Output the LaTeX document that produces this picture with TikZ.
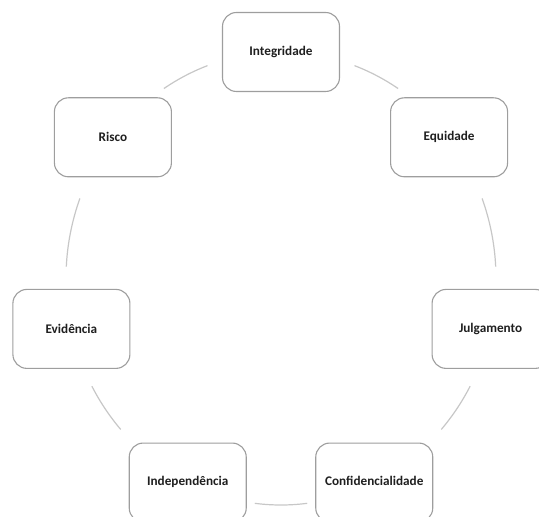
\documentclass[tikz,border=0pt]{standalone}
\usepackage{fontspec}
\setmainfont{Carlito}
\begin{document}
\begin{tikzpicture}[x=1pt,y=1pt,
  stepbox/.style={draw=black!38, line width=1.1pt, rounded corners=14pt, fill=white,
    minimum width=117pt, minimum height=79pt, inner sep=0pt,
    font=\fontsize{13.2}{15}\selectfont\bfseries, text=black!88},
  ring/.style={draw=black!22, line width=1.2pt}]
\useasboundingbox (0,0) rectangle (539,517);
\clip (0,0) rectangle (539,517);
\begin{scope}[shift={(281pt,238.5pt)}]
  \node[stepbox] (integ) at (90:215pt and 226.5pt) {Integridade};
  \node[stepbox] (equi) at (38.57:215pt and 226.5pt) {Equidade};
  \node[stepbox] (julg) at (-12.86:215pt and 226.5pt) {Julgamento};
  \node[stepbox] (conf) at (-64.29:215pt and 226.5pt) {\raisebox{-2.5pt}[0pt][0pt]{Confidencialidade}};
  \node[stepbox] (indep) at (-115.71:215pt and 226.5pt) {\raisebox{-2.5pt}[0pt][0pt]{Independência}};
  \node[stepbox] (evid) at (-167.14:215pt and 226.5pt) {Evidência};
  \node[stepbox] (risco) at (141.43:215pt and 226.5pt) {Risco};
  % connecting arcs on the ring
  \draw[ring] (70:215pt and 226.5pt) arc[start angle=70, end angle=57, x radius=215pt, y radius=226.5pt];
  \draw[ring] (20.7:215pt and 226.5pt) arc[start angle=20.7, end angle=3, x radius=215pt, y radius=226.5pt];
  \draw[ring] (-28.4:215pt and 226.5pt) arc[start angle=-28.4, end angle=-41.8, x radius=215pt, y radius=226.5pt];
  \draw[ring] (-83:215pt and 226.5pt) arc[start angle=-83, end angle=-97, x radius=215pt, y radius=226.5pt];
  \draw[ring] (-138.2:215pt and 226.5pt) arc[start angle=-138.2, end angle=-151.6, x radius=215pt, y radius=226.5pt];
  \draw[ring] (177:215pt and 226.5pt) arc[start angle=177, end angle=159.3, x radius=215pt, y radius=226.5pt];
  \draw[ring] (123:215pt and 226.5pt) arc[start angle=123, end angle=110, x radius=215pt, y radius=226.5pt];
\end{scope}
\end{tikzpicture}
\end{document}
